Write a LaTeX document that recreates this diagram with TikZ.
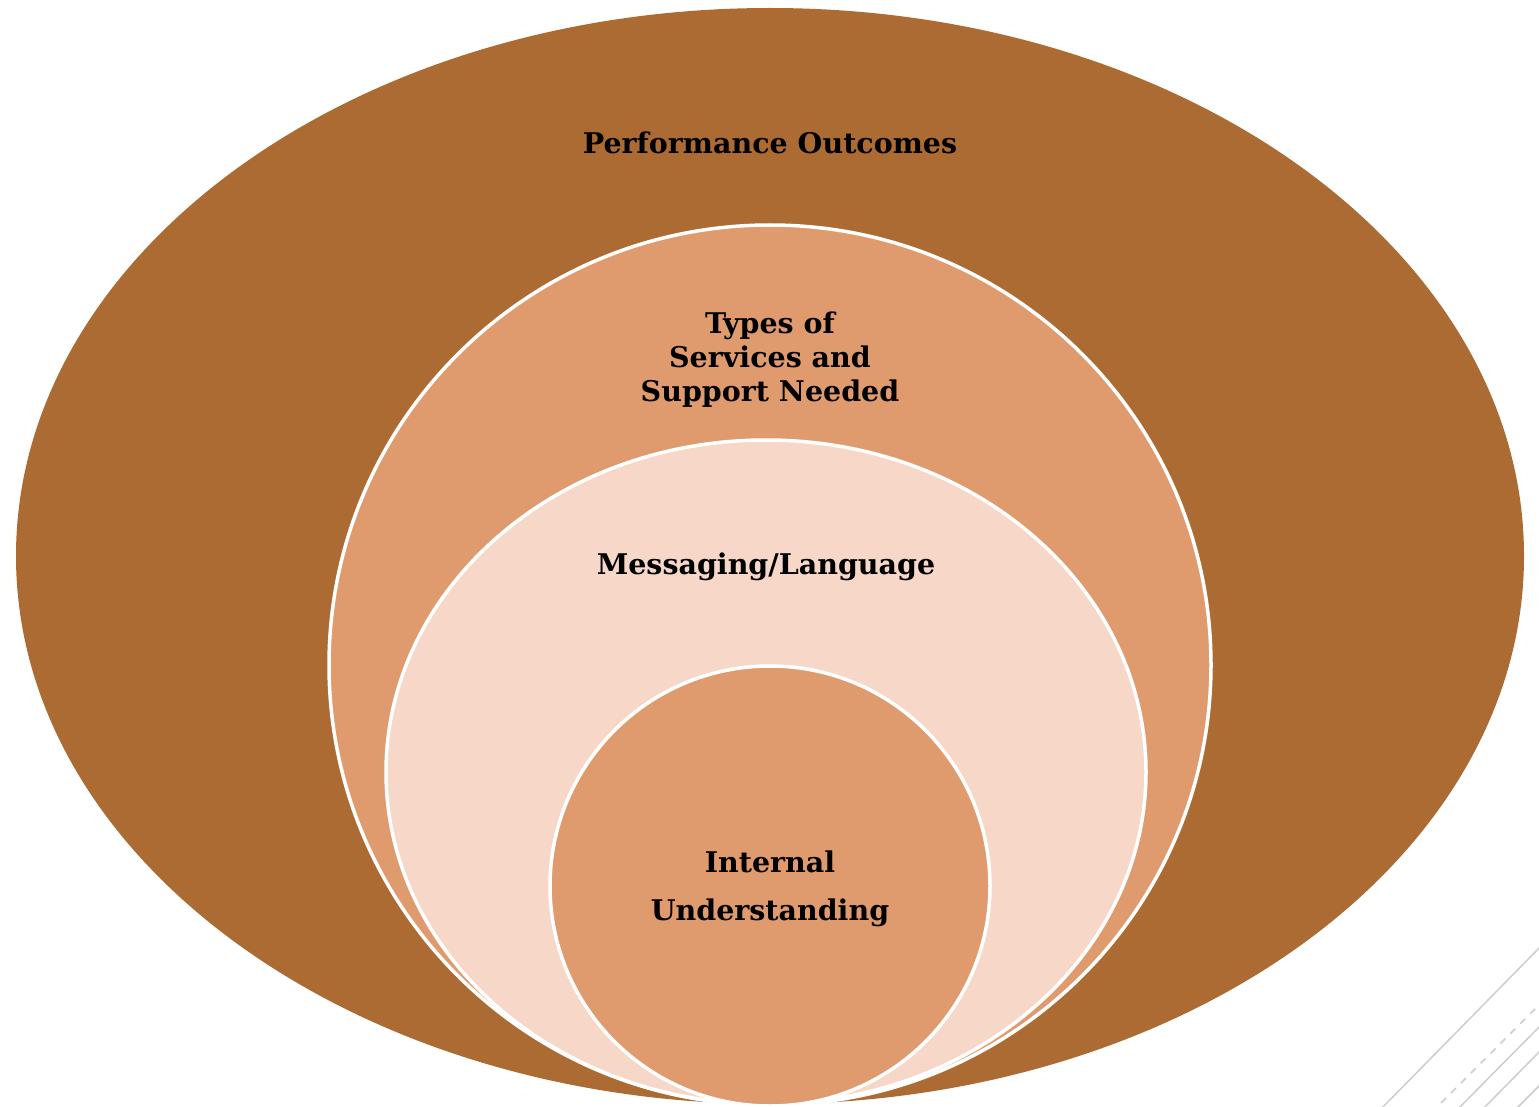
\documentclass[tikz,border=0pt]{standalone}
\usepackage{fontspec}
\setmainfont{DejaVu Serif}
\usetikzlibrary{shapes.geometric, positioning}
\definecolor{outerbrown}{RGB}{172,107,50}
\definecolor{midtan}{RGB}{223,155,110}
\definecolor{palepink}{RGB}{246,215,200}
\definecolor{decogray}{RGB}{205,205,205}
\tikzstyle{ring}=[ellipse,inner sep=0pt,draw=white,line width=3.5pt]
\tikzstyle{ringtext}=[font=\fontsize{28.5}{34}\selectfont\bfseries,align=center,inner sep=0pt]
\tikzstyle{decoline}=[draw=decogray,line width=1.5pt]

\begin{document}
\begin{tikzpicture}[x=1pt,y=-1pt]
	\useasboundingbox (0,0) rectangle (1539,1107);
	\node [ring, draw=none, fill=outerbrown, minimum width=1508, minimum height=1096] (outcomes) at (770,556) {};
	\node [ring, fill=midtan, minimum width=882, minimum height=880] (services) at (770,665) {};
	\node [ring, fill=palepink, minimum width=760, minimum height=664] (messaging) at (766,772) {};
	\node [ring, fill=midtan, minimum width=440, minimum height=440] (internal) at (770,886) {};
	
	\node [ringtext] (outcomestext) at (770,143) {Performance Outcomes};
	\node [ringtext] (servicestext) at (770,360) {Types of\\Services and\\Support Needed};
	\node [ringtext] (messagingtext) at (766,567) {Messaging/Language};
	\node [ringtext] (internaltext) at (770,889) {Internal\\[14pt]Understanding};
	
	% slide corner lines
	\draw[decoline] (1545,942) -- (1378,1112);
	\draw[decoline, dash pattern=on 7pt off 7pt] (1545,999) -- (1432,1112);
	\draw[decoline] (1545,1021) -- (1455,1112);
	\draw[decoline] (1545,1046) -- (1480,1112);
	\draw[decoline] (1545,1080) -- (1513,1112);
\end{tikzpicture}
\end{document}
